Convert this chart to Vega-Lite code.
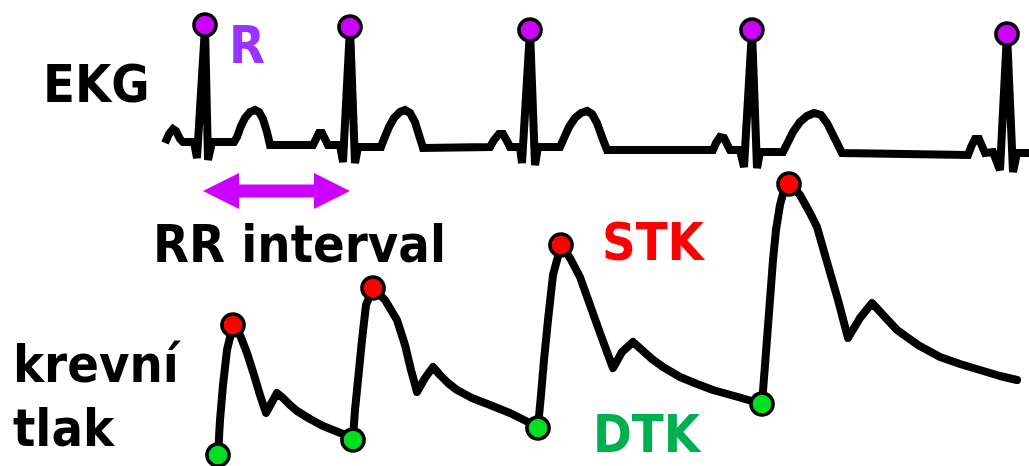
{
  "$schema": "https://vega.github.io/schema/vega-lite/v6.json",
  "width": 1029,
  "height": 466,
  "padding": 0,
  "autosize": {"type": "none"},
  "background": "white",
  "config": {"view": {"stroke": null}},
  "datasets": {
    "ekg": [
      {"x":165,"y":143},{"x":169,"y":134},{"x":173,"y":129},{"x":176,"y":131},{"x":180,"y":139},{"x":183,"y":142},{"x":194,"y":142},{"x":197,"y":158},{"x":205,"y":27},{"x":208,"y":160},{"x":212,"y":142},
      {"x":234,"y":142},{"x":237,"y":137},{"x":241,"y":126},{"x":245,"y":118},{"x":250,"y":112},{"x":255,"y":110},{"x":259,"y":112},{"x":263,"y":119},{"x":267,"y":132},{"x":270,"y":145},
      {"x":313,"y":145},{"x":316,"y":139},{"x":319,"y":133},{"x":322,"y":133},{"x":325,"y":139},{"x":328,"y":145},{"x":340,"y":145},{"x":343,"y":162},{"x":350,"y":27},{"x":355,"y":163},{"x":358,"y":147},
      {"x":381,"y":147},{"x":384,"y":139},{"x":389,"y":127},{"x":394,"y":118},{"x":400,"y":112},{"x":405,"y":110},{"x":410,"y":113},{"x":415,"y":122},{"x":419,"y":135},{"x":423,"y":148},
      {"x":490,"y":147},{"x":494,"y":140},{"x":499,"y":134},{"x":503,"y":134},{"x":507,"y":141},{"x":510,"y":147},{"x":520,"y":147},{"x":522,"y":163},{"x":530,"y":30},{"x":535,"y":165},{"x":538,"y":147},
      {"x":560,"y":147},{"x":564,"y":138},{"x":569,"y":127},{"x":575,"y":118},{"x":581,"y":113},{"x":587,"y":111},{"x":592,"y":114},{"x":597,"y":123},{"x":602,"y":137},{"x":607,"y":150},
      {"x":713,"y":150},{"x":716,"y":143},{"x":720,"y":137},{"x":724,"y":138},{"x":727,"y":144},{"x":730,"y":150},{"x":740,"y":150},{"x":744,"y":167},{"x":752,"y":30},{"x":757,"y":168},{"x":760,"y":152},
      {"x":783,"y":152},{"x":787,"y":144},{"x":793,"y":132},{"x":800,"y":122},{"x":807,"y":116},{"x":814,"y":113},{"x":821,"y":115},{"x":827,"y":123},{"x":834,"y":137},{"x":842,"y":153},
      {"x":968,"y":155},{"x":971,"y":147},{"x":975,"y":139},{"x":979,"y":139},{"x":982,"y":146},{"x":985,"y":153},{"x":993,"y":152},{"x":1000,"y":170},{"x":1007,"y":33},{"x":1013,"y":172},{"x":1017,"y":153},{"x":1029,"y":153}
    ],
    "tlak": [
      {"x":218,"y":455},{"x":220,"y":420},{"x":223,"y":385},{"x":227,"y":350},{"x":233,"y":325},
      {"x":240,"y":335},{"x":247,"y":353},{"x":254,"y":375},{"x":260,"y":395},{"x":266,"y":413},{"x":272,"y":402},{"x":277,"y":393},{"x":283,"y":398},{"x":290,"y":405},{"x":297,"y":411},{"x":310,"y":419},{"x":323,"y":426},{"x":338,"y":432},{"x":353,"y":438},
      {"x":355,"y":410},{"x":358,"y":380},{"x":362,"y":340},{"x":366,"y":305},{"x":373,"y":288},
      {"x":385,"y":300},{"x":397,"y":320},{"x":405,"y":345},{"x":411,"y":370},{"x":417,"y":392},{"x":425,"y":378},{"x":433,"y":367},{"x":440,"y":375},{"x":448,"y":383},{"x":457,"y":390},{"x":472,"y":398},{"x":490,"y":405},{"x":510,"y":413},{"x":538,"y":427},
      {"x":541,"y":395},{"x":544,"y":360},{"x":548,"y":320},{"x":553,"y":275},{"x":561,"y":245},
      {"x":570,"y":258},{"x":580,"y":277},{"x":590,"y":305},{"x":600,"y":333},{"x":607,"y":352},{"x":613,"y":368},{"x":622,"y":352},{"x":633,"y":342},{"x":642,"y":350},{"x":652,"y":359},{"x":663,"y":367},{"x":680,"y":377},{"x":697,"y":384},{"x":713,"y":390},{"x":738,"y":397},{"x":762,"y":404},
      {"x":765,"y":365},{"x":768,"y":326},{"x":773,"y":260},{"x":776,"y":230},{"x":780,"y":205},{"x":784,"y":190},{"x":789,"y":183},
      {"x":800,"y":195},{"x":810,"y":213},{"x":817,"y":227},{"x":827,"y":262},{"x":838,"y":300},{"x":848,"y":338},{"x":860,"y":318},{"x":872,"y":303},{"x":884,"y":316},{"x":897,"y":330},{"x":918,"y":345},{"x":940,"y":357},{"x":960,"y":364},{"x":980,"y":370},{"x":1000,"y":376},{"x":1017,"y":380}
    ],
    "rpeaks": [{"x":205,"y":25},{"x":350,"y":27},{"x":530,"y":30},{"x":752,"y":30},{"x":1007,"y":34}],
    "stk": [{"x":233,"y":325},{"x":373,"y":288},{"x":561,"y":245},{"x":789,"y":184}],
    "dtk": [{"x":218,"y":455},{"x":353,"y":440},{"x":538,"y":428},{"x":762,"y":404}],
    "arrow": [{"x":236,"y":191},{"x":318,"y":191}],
    "headL": [{"x":221,"y":191}],
    "headR": [{"x":332,"y":191}],
    "labels": [
      {"x":43,"y":102,"text":"EKG","kind":"black"},
      {"x":153,"y":262,"text":"RR interval","kind":"black"},
      {"x":13,"y":382,"text":"krevní","kind":"black"},
      {"x":13,"y":446,"text":"tlak","kind":"black"},
      {"x":229,"y":63,"text":"R","kind":"R"},
      {"x":602,"y":260,"text":"STK","kind":"STK"},
      {"x":593,"y":452,"text":"DTK","kind":"DTK"}
    ]
  },
  "encoding": {
    "x": {"field": "x", "type": "quantitative", "scale": {"domain": [0, 1029], "nice": false, "zero": false}, "axis": null},
    "y": {"field": "y", "type": "quantitative", "scale": {"domain": [466, 0], "nice": false, "zero": false}, "axis": null}
  },
  "layer": [
    {"data": {"name": "ekg"}, "mark": {"type": "line", "color": "black", "strokeWidth": 8, "strokeJoin": "miter", "strokeCap": "butt"}, "encoding": {"order": {"field": "x"}}},
    {"data": {"name": "tlak"}, "mark": {"type": "line", "color": "black", "strokeWidth": 8, "strokeJoin": "round", "strokeCap": "round"}, "encoding": {"order": {"field": "x"}}},
    {"data": {"name": "arrow"}, "mark": {"type": "line", "color": "#cc00ff", "strokeWidth": 13, "strokeCap": "butt"}, "encoding": {}},
    {"data": {"name": "headL"}, "mark": {"type": "point", "shape": "M-1,0L1,-1L1,1Z", "size": 1296, "filled": true, "color": "#cc00ff", "opacity": 1, "strokeWidth": 0}},
    {"data": {"name": "headR"}, "mark": {"type": "point", "shape": "M1,0L-1,-1L-1,1Z", "size": 1296, "filled": true, "color": "#cc00ff", "opacity": 1, "strokeWidth": 0}},
    {"data": {"name": "rpeaks"}, "mark": {"type": "point", "shape": "circle", "size": 490, "fill": "#cc00ff", "stroke": "black", "strokeWidth": 3.5, "opacity": 1, "filled": true}},
    {"data": {"name": "stk"}, "mark": {"type": "point", "shape": "circle", "size": 490, "fill": "#ff0000", "stroke": "black", "strokeWidth": 3.5, "opacity": 1, "filled": true}},
    {"data": {"name": "dtk"}, "mark": {"type": "point", "shape": "circle", "size": 490, "fill": "#00e020", "stroke": "black", "strokeWidth": 3.5, "opacity": 1, "filled": true}},
    {"data": {"name": "labels"}, "mark": {"type": "text", "align": "left", "baseline": "alphabetic", "font": "DejaVu Sans Condensed, DejaVu Sans", "fontWeight": "bold", "fontSize": 52},
     "encoding": {"text": {"field": "text"}, "color": {"field": "kind", "type": "nominal", "legend": null, "scale": {"domain": ["black", "R", "STK", "DTK"], "range": ["#000000", "#9933ff", "#ff0000", "#00b050"]}}}}
  ]
}
